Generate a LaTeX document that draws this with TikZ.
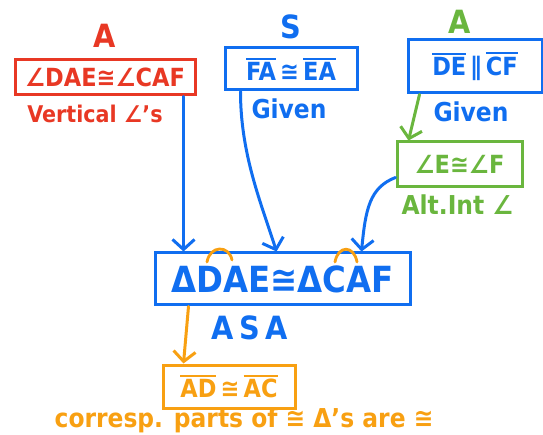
\documentclass[tikz,border=0pt]{standalone}
\usepackage{fontspec}
\setmainfont{DejaVu Sans Condensed}
\usetikzlibrary{arrows.meta,positioning}

\definecolor{penred}{RGB}{232,56,36}
\definecolor{penblue}{RGB}{16,110,240}
\definecolor{pengreen}{RGB}{106,182,62}
\definecolor{penorange}{RGB}{248,160,18}

% segment with a bar over it
\newcommand{\seg}[1]{\vbox{\hrule height 2.2pt \kern 2.5pt \hbox{#1}}}

\begin{document}
\begin{tikzpicture}[x=1pt, y=-1pt,
      every node/.style={inner sep=0pt, font=\bfseries},
      stmtbox/.style={draw, line width=3pt, inner sep=0pt},   % boxed statement
      boxtext/.style={font=\fontsize{25}{27}\bfseries\selectfont},
      bigtext/.style={font=\fontsize{36}{38}\bfseries\selectfont},
      reason/.style={font=\fontsize{23}{25}\bfseries\selectfont},
      bigreason/.style={font=\fontsize{26}{28}\bfseries\selectfont},
      part/.style={font=\fontsize{32}{34}\bfseries\selectfont},   % A, S, A letters
      pen/.style={line width=3pt, line cap=round, line join=round,
                  -{Straight Barb[length=10pt, width=22pt, line width=3pt]}}
    ]
    \useasboundingbox (0,0) rectangle (543,435);

    % the three given statements
    \node[stmtbox, boxtext, draw=penred, text=penred,
          minimum width=180pt, minimum height=35pt] (A1) at (105,77.5)
          {∠DAE≅∠CAF};
    \node[stmtbox, boxtext, draw=penblue, text=penblue,
          minimum width=132pt, minimum height=42pt] (S1) at (291,69)
          {\seg{FA}\,≅\,\seg{EA}};
    \node[stmtbox, boxtext, draw=penblue, text=penblue,
          minimum width=134pt, minimum height=53pt] (A2) at (475,66.5)
          {\seg{DE}\,∥\,\seg{CF}};
    \node[stmtbox, boxtext, draw=pengreen, text=pengreen,
          minimum width=125pt, minimum height=45pt] (E1) at (459.5,164.5)
          {∠E≅∠F};

    % congruent triangles and the conclusion
    \node[stmtbox, bigtext, draw=penblue, text=penblue,
          minimum width=255pt, minimum height=52pt] (T1) at (282.5,279)
          {ΔDAE≅ΔCAF};
    \node[stmtbox, boxtext, draw=penorange, text=penorange,
          minimum width=132pt, minimum height=43pt] (C1) at (229,386.5)
          {\seg{AD}\,≅\,\seg{AC}};

    % A S A over the givens
    \node[part, text=penred, above=11pt of A1] (pA1) {A};
    \node[part, text=penblue, above=7pt of S1] (pS1) {S};
    \node[part, text=pengreen, above=5pt of A2, xshift=-15pt] (pA2) {A};

    % reasons
    \node[reason, text=penred, below=8pt of A1, xshift=-10pt] (rA1) {Vertical ∠'s};
    \node[bigreason, text=penblue, below=7pt of S1, xshift=-2pt] (rS1) {Given};
    \node[bigreason, text=penblue, below=7pt of A2, xshift=-4pt] (rA2) {Given};
    \node[bigreason, text=pengreen, below=6pt of E1, xshift=-2pt] (rE1) {Alt.Int ∠};
    \node[part, text=penblue, below=9pt of T1, xshift=-33pt] (rT1) {A\,S\,A};
    \node[reason, font=\fontsize{26}{28}\bfseries\selectfont, text=penorange,
          below=-2pt of C1, xshift=15pt] (rC1) {corresp. parts of ≅ Δ's are ≅};

    % arrows into the triangles
    \draw[pen, penblue] ([xshift=-13pt]A1.south east) -- ([xshift=-13pt]A1.south east |- T1.north);
    \draw[pen, penblue] ([xshift=17pt]S1.south west)
          .. controls +(0,62) and +(-16,-50) .. ([xshift=123pt]T1.north west);
    \draw[pen, penblue] ([yshift=-13pt]E1.west)
          .. controls +(-26,10) and +(4,-42) .. ([xshift=-50pt]T1.north east);
    \draw[pen, pengreen] ([xshift=13pt]A2.south west) -- ([xshift=13pt]E1.north west);
    \draw[pen, penorange] ([xshift=35pt]T1.south west) -- ([xshift=22pt]C1.north west);

    % included angle marks
    \draw[penorange, line width=2.8pt, line cap=round]
          (207,262) .. controls (210,245) and (229,245) .. (232,260);
    \draw[penorange, line width=2.8pt, line cap=round]
          (335,262) .. controls (338,245) and (354,245) .. (357,262);
\end{tikzpicture}
\end{document}
